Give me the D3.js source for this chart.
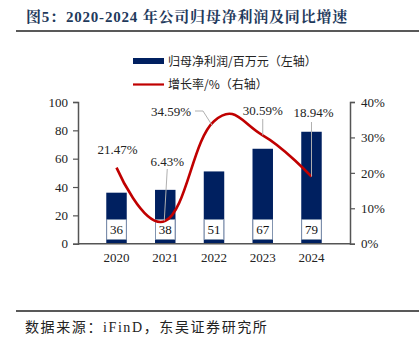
<!DOCTYPE html>
<html>
<head>
<meta charset="utf-8">
<script src="https://cdn.jsdelivr.net/npm/d3@7"></script>
<style>
  body { margin: 0; background: #fff; }
  svg { display: block; }
</style>
</head>
<body>
<script>
// data
const years = ["2020", "2021", "2022", "2023", "2024"];
const netProfit = [36, 38, 51, 67, 79];          // 百万元, left axis
const growth = [21.47, 6.43, 34.59, 30.59, 18.94]; // %, right axis
const leftTicks = [0, 20, 40, 60, 80, 100];
const rightTicks = [0, 10, 20, 30, 40];

const W = 419, H = 345;
const margin = { left: 78, right: 69, top: 102, bottom: 101 };
const serif = "'Liberation Serif', 'Times New Roman', 'Noto Sans CJK SC', serif";
const cjk = "'Noto Sans CJK SC', sans-serif";

const svg = d3.select("body").append("svg")
  .attr("width", W).attr("height", H);

// title + rules
svg.append("text")
  .attr("x", 26).attr("y", 22)
  .attr("font-family", "'Liberation Serif', 'Noto Serif CJK SC', 'Noto Sans CJK SC', serif")
  .attr("font-weight", "bold").attr("font-size", 15)
  .attr("letter-spacing", 0.8)
  .attr("fill", "#1f3a5c")
  .text("图5：2020-2024 年公司归母净利润及同比增速");

svg.append("line").attr("x1", 16).attr("x2", W).attr("y1", 31).attr("y2", 31)
  .attr("stroke", "#222").attr("stroke-width", 1.6);
svg.append("line").attr("x1", 16).attr("x2", W).attr("y1", 311).attr("y2", 311)
  .attr("stroke", "#222").attr("stroke-width", 1.6);

svg.append("text")
  .attr("x", 25).attr("y", 332)
  .attr("font-family", serif).attr("font-size", 14).attr("fill", "#222")
  .attr("letter-spacing", 1.6)
  .text("数据来源：iFinD，东吴证券研究所");

const x = d3.scaleBand().domain(years)
  .range([margin.left, W - margin.right]).padding(0.58);
const yL = d3.scaleLinear().domain([0, 100])
  .range([H - margin.bottom - 0.3, margin.top]);
const yR = d3.scaleLinear().domain([0, 40])
  .range([H - margin.bottom - 0.3, margin.top]);

// bars
const bars = svg.append("g");
bars.selectAll("rect").data(netProfit).join("rect")
  .attr("x", (d, i) => x(years[i]))
  .attr("width", x.bandwidth())
  .attr("y", d => yL(d))
  .attr("height", d => yL(0) - yL(d))
  .attr("fill", "#002060");

// value boxes inside bars
const boxTop = yL(17), boxBot = yL(3);
bars.selectAll(".box").data(netProfit).join("rect")
  .attr("class", "box")
  .attr("x", (d, i) => x(years[i]) + 0.5)
  .attr("width", x.bandwidth() - 1)
  .attr("y", boxTop)
  .attr("height", boxBot - boxTop)
  .attr("fill", "#fff")
  .attr("stroke", "#8497b0").attr("stroke-width", 0.8);
bars.selectAll(".val").data(netProfit).join("text")
  .attr("class", "val")
  .attr("x", (d, i) => x(years[i]) + x.bandwidth() / 2)
  .attr("y", (boxTop + boxBot) / 2 + 4.5)
  .attr("text-anchor", "middle")
  .attr("font-family", serif).attr("font-size", 13).attr("fill", "#111")
  .text(d => d);

// axes
const axisColor = "#555";
const gL = svg.append("g").attr("transform", `translate(${margin.left},0)`)
  .call(d3.axisLeft(yL).tickValues(leftTicks).tickSize(5).tickPadding(5));
const gR = svg.append("g").attr("transform", `translate(${W - margin.right},0)`)
  .call(d3.axisRight(yR).tickValues(rightTicks).tickSize(5).tickPadding(6)
    .tickFormat(d => d + "%"));
const gX = svg.append("g").attr("transform", `translate(0,${yL(0)})`)
  .call(d3.axisBottom(x).tickSize(0).tickPadding(9));
[gL, gR, gX].forEach(g => {
  g.select(".domain").attr("stroke", axisColor).attr("stroke-width", 1.5);
  g.selectAll(".tick line").attr("stroke", axisColor).attr("stroke-width", 1.2);
  g.selectAll(".tick text").attr("font-family", serif).attr("font-size", 13)
    .attr("fill", "#222");
});
gX.select(".domain").attr("d", `M${margin.left},0H${W - margin.right}`);

// growth line
const line = d3.line()
  .x((d, i) => x(years[i]) + x.bandwidth() / 2)
  .y(d => yR(d))
  .curve(d3.curveCardinal.tension(-0.3));
svg.append("path").datum(growth)
  .attr("d", line)
  .attr("fill", "none").attr("stroke", "#c00000").attr("stroke-width", 2.6);

// line labels with leaders
const cx = i => x(years[i]) + x.bandwidth() / 2;
const labelPos = [
  { dx: 1, y: 154 },
  { dx: 2, y: 166 },
  { dx: -43, y: 116 },
  { dx: 0, y: 115 },
  { dx: 2, y: 117 }
];
const leaders = [
  null,
  i => [[cx(i) + 2, 169], [cx(i) - 1, yR(growth[i])]],
  i => [[cx(i) - 19, 111], [cx(i) - 11, 111], [cx(i) - 2, yR(growth[i]) + 4]],
  i => [[cx(i), 119], [cx(i), yR(growth[i])]],
  i => [[cx(i), 122], [cx(i), yR(growth[i])]]
];
growth.forEach((g, i) => {
  if (leaders[i]) {
    svg.append("path")
      .attr("d", d3.line()(leaders[i](i)))
      .attr("fill", "none").attr("stroke", "#b0b0b0").attr("stroke-width", 1);
  }
  svg.append("text")
    .attr("x", cx(i) + labelPos[i].dx).attr("y", labelPos[i].y)
    .attr("text-anchor", "middle")
    .attr("font-family", serif).attr("font-size", 13).attr("fill", "#222")
    .text(g.toFixed(2) + "%");
});

// legend
svg.append("rect").attr("x", 133).attr("y", 58).attr("width", 31).attr("height", 6)
  .attr("fill", "#002060");
svg.append("text").attr("x", 168).attr("y", 65.5)
  .attr("font-family", cjk).attr("font-size", 12).attr("fill", "#222")
  .text("归母净利润/百万元（左轴）");
svg.append("line").attr("x1", 133).attr("x2", 164).attr("y1", 84.5).attr("y2", 84.5)
  .attr("stroke", "#c00000").attr("stroke-width", 2.2);
svg.append("text").attr("x", 168).attr("y", 89)
  .attr("font-family", cjk).attr("font-size", 12).attr("fill", "#222")
  .text("增长率/%（右轴）");
</script>
</body>
</html>
